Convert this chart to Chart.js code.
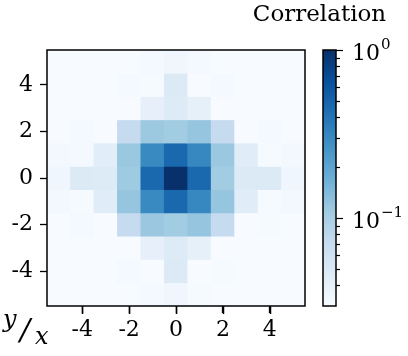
<!DOCTYPE html>
<html>
<head>
<meta charset="utf-8">
<script src="https://cdn.jsdelivr.net/npm/chart.js@4/dist/chart.umd.min.js"></script>
<style>
  html, body { margin: 0; padding: 0; background: #fff; }
  #wrap { position: relative; width: 408px; height: 356px; }
  #wrap canvas { position: absolute; top: 0; }
  #cbar { left: 240px; }
  #heat { left: 0; }
</style>
</head>
<body>
<div id="wrap">
  <canvas id="cbar" width="168" height="356"></canvas>
  <canvas id="heat" width="310" height="356"></canvas>
</div>
<script>
// ---- data ----
const xCats  = [-5, -4, -3, -2, -1, 0, 1, 2, 3, 4, 5];
const yRows  = [5, 4, 3, 2, 1, 0, -1, -2, -3, -4, -5];
const xTicks = [-4, -2, 0, 2, 4];
const yTicks = [-4, -2, 0, 2, 4];
// correlation, one row per y (top to bottom), columns x = -5..5
const corr = [
  [0.030, 0.030, 0.030, 0.030, 0.032, 0.034, 0.032, 0.030, 0.030, 0.030, 0.030],
  [0.030, 0.030, 0.030, 0.032, 0.031, 0.048, 0.030, 0.032, 0.030, 0.030, 0.030],
  [0.030, 0.030, 0.030, 0.030, 0.040, 0.047, 0.041, 0.030, 0.030, 0.030, 0.030],
  [0.030, 0.032, 0.030, 0.072, 0.114, 0.107, 0.120, 0.072, 0.030, 0.032, 0.030],
  [0.033, 0.032, 0.044, 0.116, 0.300, 0.470, 0.310, 0.116, 0.045, 0.031, 0.033],
  [0.034, 0.048, 0.047, 0.110, 0.470, 1.000, 0.470, 0.107, 0.048, 0.048, 0.034],
  [0.033, 0.031, 0.045, 0.121, 0.300, 0.470, 0.310, 0.121, 0.045, 0.031, 0.033],
  [0.030, 0.032, 0.030, 0.072, 0.115, 0.107, 0.121, 0.072, 0.030, 0.031, 0.030],
  [0.030, 0.030, 0.030, 0.030, 0.040, 0.047, 0.041, 0.030, 0.030, 0.030, 0.030],
  [0.030, 0.030, 0.030, 0.032, 0.030, 0.048, 0.030, 0.031, 0.030, 0.030, 0.030],
  [0.030, 0.030, 0.030, 0.030, 0.032, 0.034, 0.031, 0.030, 0.030, 0.030, 0.030]
];
const cbMin = 0.03, cbMax = 1.0;
const cbMajor = [0.1, 1];
const cbMinor = [0.04, 0.05, 0.06, 0.07, 0.08, 0.09, 0.2, 0.3, 0.4, 0.5, 0.6, 0.7, 0.8, 0.9];
const cbExp = { 0.1: '\u22121', 1: '0' };
const blues = ['#f7fbff','#deebf7','#c6dbef','#9ecae1','#6baed6','#4292c6','#2171b5','#08519c','#08306b'];

const FONT = 'DejaVu Serif';

const hex = h => [1, 3, 5].map(i => parseInt(h.substr(i, 2), 16));
const bluesAt = t => {
  t = Math.max(0, Math.min(1, t));
  const p = t * (blues.length - 1), i = Math.min(Math.floor(p), blues.length - 2), f = p - i;
  const a = hex(blues[i]), b = hex(blues[i + 1]);
  return 'rgb(' + a.map((c, k) => Math.round(c + (b[k] - c) * f)).join(',') + ')';
};
const colorOf = v => bluesAt((Math.log10(v) - Math.log10(cbMin)) / (Math.log10(cbMax) - Math.log10(cbMin)));

const framePlugin = {
  id: 'frame',
  afterDatasetsDraw(chart) {
    const { ctx, chartArea: a } = chart;
    ctx.save();
    ctx.strokeStyle = '#000';
    ctx.lineWidth = 1.5;
    ctx.strokeRect(a.left, a.top, a.right - a.left, a.bottom - a.top);
    ctx.restore();
  }
};

// x tick marks + corner "y / x" label
const cornerPlugin = {
  id: 'corner',
  afterDraw(chart) {
    const ctx = chart.ctx, a = chart.chartArea;
    ctx.save();
    ctx.strokeStyle = '#000';
    ctx.lineWidth = 1.5;
    xTicks.forEach(v => {
      const px = Math.round(a.left + (v + 5.5) / 11 * (a.right - a.left)) + 0.5;
      ctx.beginPath();
      ctx.moveTo(px, a.bottom);
      ctx.lineTo(px, a.bottom + 8);
      ctx.stroke();
    });
    ctx.fillStyle = '#000';
    ctx.textBaseline = 'alphabetic';
    ctx.font = 'italic 24px "' + FONT + '"';
    ctx.fillText('y', 3, 327);
    ctx.fillText('x', 35, 344);
    ctx.font = 'italic 30px "' + FONT + '"';
    ctx.fillText('/', 20, 340);
    ctx.restore();
  }
};

const axisOpts = (ticks) => ({
  type: 'linear',
  min: -5.5, max: 5.5,
  offset: false,
  border: { display: false },
  grid: { offset: false, drawOnChartArea: false, tickLength: 7, tickColor: '#000', tickWidth: 1.3 },
  afterBuildTicks: s => { s.ticks = ticks.map(v => ({ value: v })); }
});

new Chart(document.getElementById('heat'), {
  type: 'bar',
  data: {
    datasets: yRows.map((y, r) => ({
      data: xCats.map(x => ({ x: x, y: [y - 0.5, y + 0.5] })),
      backgroundColor: corr[r].map(colorOf),
      borderWidth: 0,
      barPercentage: 1,
      categoryPercentage: 1,
      grouped: false
    }))
  },
  options: {
    responsive: false,
    animation: false,
    devicePixelRatio: 1,
    layout: { padding: { top: 50, right: 5, left: 0, bottom: 0 } },
    plugins: { legend: { display: false }, tooltip: { enabled: false } },
    scales: {
      x: Object.assign(axisOpts(xTicks), {
        ticks: { color: '#000', font: { family: FONT, size: 22 }, padding: 4, maxRotation: 0, autoSkip: false, callback: v => String(v) },
        afterFit: s => { s.height = 50; }
      }),
      y: Object.assign(axisOpts(yTicks), {
        ticks: { color: '#000', font: { family: FONT, size: 22 }, padding: 7, callback: v => String(v) },
        afterFit: s => { s.width = 47; }
      })
    }
  },
  plugins: [framePlugin, cornerPlugin]
});

// colorbar ticks, 10^n labels and title
const cbPlugin = {
  id: 'cbextra',
  afterDraw(chart) {
    const { ctx, chartArea: a } = chart;
    const sc = chart.scales.y;
    ctx.save();
    ctx.strokeStyle = '#000';
    ctx.lineWidth = 1.2;
    sc.ticks.forEach(t => {
      const py = Math.round(sc.getPixelForValue(t.value)) + 0.5;
      const len = cbMajor.includes(t.value) ? 7 : 4;
      ctx.beginPath();
      ctx.moveTo(a.right, py);
      ctx.lineTo(a.right + len, py);
      ctx.stroke();
    });
    ctx.fillStyle = '#000';
    ctx.textBaseline = 'alphabetic';
    ctx.textAlign = 'left';
    cbMajor.forEach(v => {
      const py = sc.getPixelForValue(v);
      ctx.font = '22px "' + FONT + '"';
      ctx.fillText('10', a.right + 16, py + 10);
      const w = ctx.measureText('10').width;
      ctx.font = '15px "' + FONT + '"';
      ctx.fillText(cbExp[v], a.right + 17 + w, py - 1);
    });
    ctx.font = '23px "' + FONT + '"';
    ctx.textAlign = 'center';
    ctx.fillText('Correlation', (a.left + a.right) / 2 - 10, 21);
    ctx.restore();
  }
};

new Chart(document.getElementById('cbar'), {
  type: 'bar',
  data: {
    labels: ['cb'],
    datasets: [{
      data: [[cbMin, cbMax]],
      backgroundColor: ctx => {
        const a = ctx.chart.chartArea;
        if (!a) return blues[0];
        const g = ctx.chart.ctx.createLinearGradient(0, a.bottom, 0, a.top);
        blues.forEach((c, i) => g.addColorStop(i / (blues.length - 1), c));
        return g;
      },
      borderWidth: 0,
      barPercentage: 1,
      categoryPercentage: 1
    }]
  },
  options: {
    responsive: false,
    animation: false,
    devicePixelRatio: 1,
    layout: { padding: { top: 50, bottom: 50, left: 83, right: 0 } },
    plugins: { legend: { display: false }, tooltip: { enabled: false } },
    scales: {
      x: { display: false },
      y: {
        type: 'logarithmic',
        position: 'right',
        min: cbMin, max: cbMax,
        border: { display: false },
        grid: { drawOnChartArea: false, drawTicks: false },
        ticks: { display: false, autoSkip: false },
        afterBuildTicks: s => {
          s.ticks = cbMinor.concat(cbMajor).sort((a, b) => a - b).map(v => ({ value: v, major: cbMajor.includes(v) }));
        },
        afterFit: s => { s.width = 72; }
      }
    }
  },
  plugins: [framePlugin, cbPlugin]
});
</script>
</body>
</html>
